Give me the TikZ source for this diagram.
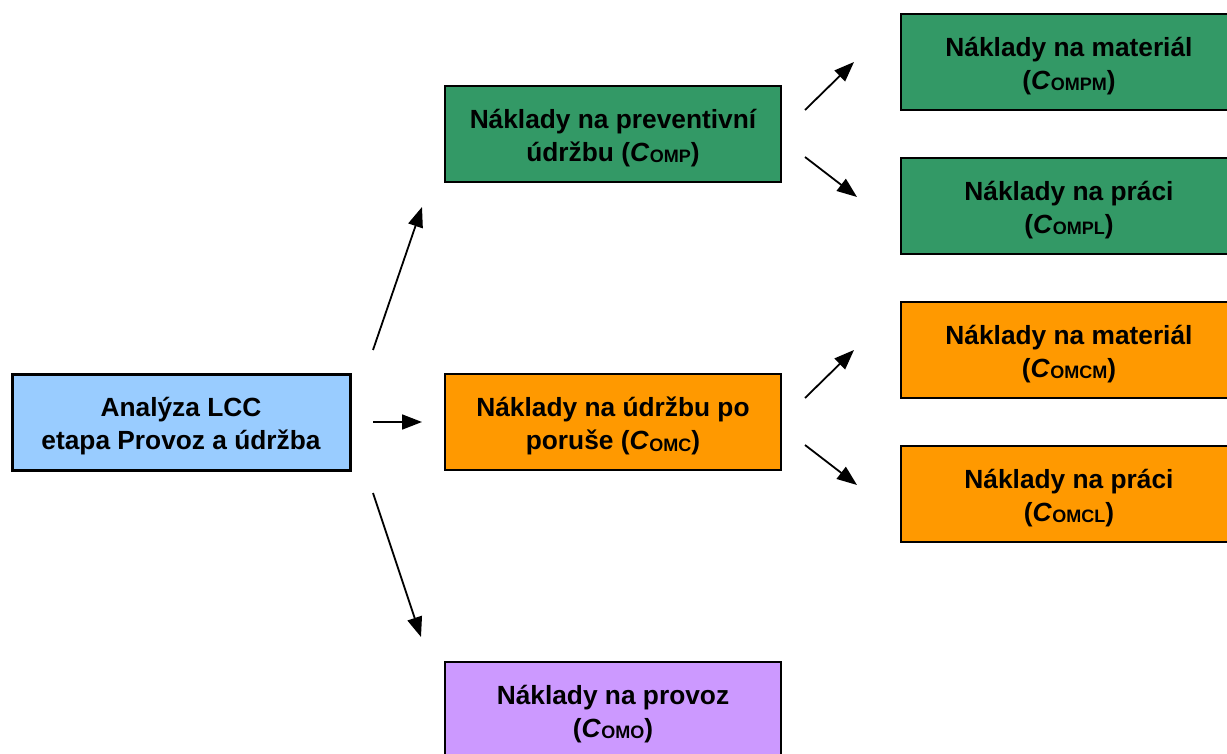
\documentclass[tikz,border=0pt]{standalone}
\usepackage{fontspec}
\setmainfont{Liberation Sans}
\usetikzlibrary{arrows.meta}
\definecolor{gbox}{HTML}{339966}
\definecolor{obox}{HTML}{FF9900}
\definecolor{pbox}{HTML}{CC99FF}
\definecolor{bbox}{HTML}{99CCFF}
\newcommand{\csub}[1]{(\textit{C}\kern0.02em\raisebox{-0.12ex}{\fontsize{18}{18}\selectfont #1})}
\tikzset{
  box/.style={draw=black, line width=1.5pt, minimum height=96pt, minimum width=336pt, inner sep=0pt},
  txt/.style={align=center, inner sep=0pt, yshift=-4pt,
    font=\fontsize{26.3}{32.5}\selectfont\bfseries},
  arr/.style={line width=1.8pt, -{Triangle[length=20pt,width=15pt]}}
}
\begin{document}
\begin{tikzpicture}[x=1pt,y=-1pt]
\useasboundingbox (0,0) rectangle (1227,754);
\clip (0,0) rectangle (1227,754);
\fill[white] (0,0) rectangle (1227,754);
\node[box, line width=3pt, fill=bbox, minimum width=338pt,
  label={[txt]center:{Analýza LCC\\etapa Provoz a údržba}}] (main) at (181,422) {};
\node[box, fill=gbox, label={[txt]center:{Náklady na preventivní\\údržbu \csub{OMP}}}] (omp) at (613,134) {};
\node[box, fill=obox, label={[txt]center:{Náklady na údržbu po\\poruše \csub{OMC}}}] (omc) at (613,422) {};
\node[box, fill=pbox, label={[txt]center:{Náklady na provoz\\\csub{OMO}}}] (omo) at (613,710) {};
\node[box, fill=gbox, label={[txt]center:{Náklady na materiál\\\csub{OMPM}}}] (ompm) at (1069,62) {};
\node[box, fill=gbox, label={[txt]center:{Náklady na práci\\\csub{OMPL}}}] (ompl) at (1069,206) {};
\node[box, fill=obox, label={[txt]center:{Náklady na materiál\\\csub{OMCM}}}] (omcm) at (1069,350) {};
\node[box, fill=obox, label={[txt]center:{Náklady na práci\\\csub{OMCL}}}] (omcl) at (1069,494) {};
% connector end points (free-floating arrows)
\coordinate (s1) at (373,350); \coordinate (e1) at (422,207);
\coordinate (s2) at (373,422); \coordinate (e2) at (422,422);
\coordinate (s3) at (373,493); \coordinate (e3) at (421,637);
\coordinate (s4) at (805,110); \coordinate (e4) at (854,62);
\coordinate (s5) at (805,157); \coordinate (e5) at (857,197);
\coordinate (s6) at (805,398); \coordinate (e6) at (854,350);
\coordinate (s7) at (805,445); \coordinate (e7) at (857,485);
\draw[arr] (s1) -- (e1);
\draw[arr] (s2) -- (e2);
\draw[arr] (s3) -- (e3);
\draw[arr] (s4) -- (e4);
\draw[arr] (s5) -- (e5);
\draw[arr] (s6) -- (e6);
\draw[arr] (s7) -- (e7);
\end{tikzpicture}
\end{document}
